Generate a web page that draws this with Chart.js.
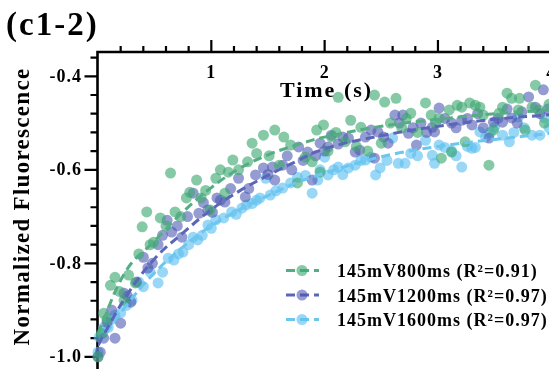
<!DOCTYPE html>
<html>
<head>
<meta charset="utf-8">
<script src="https://cdn.jsdelivr.net/npm/chart.js@4.4.1/dist/chart.umd.min.js"></script>
<style>
  html, body { margin: 0; padding: 0; background: #fff; overflow: hidden; }
  #wrap { width: 549px; height: 369px; }
</style>
</head>
<body>
<div id="wrap"><canvas id="fluoChart" width="549" height="369"></canvas></div>
<script>
// measured points [time (s), normalized fluorescence]
const pts800 = [
  [0.00,-1.000],[0.03,-0.950],[0.05,-0.907],[0.08,-0.920],[0.11,-0.847],[0.15,-0.830],[0.19,-0.860],[0.23,-0.879],
  [0.27,-0.825],[0.33,-0.842],[0.36,-0.780],[0.39,-0.722],[0.43,-0.690],[0.46,-0.760],[0.49,-0.755],[0.55,-0.703],
  [0.60,-0.720],[0.64,-0.607],[0.68,-0.690],[0.73,-0.700],[0.78,-0.660],[0.81,-0.648],[0.87,-0.622],[0.91,-0.660],
  [0.95,-0.644],[0.99,-0.686],[1.04,-0.618],[1.08,-0.600],[1.12,-0.650],[1.15,-0.605],[1.19,-0.579],[1.24,-0.600],
  [1.32,-0.583],[1.36,-0.543],[1.40,-0.565],[1.46,-0.526],[1.51,-0.570],[1.56,-0.515],[1.60,-0.590],[1.64,-0.530],
  [1.70,-0.547],[1.76,-0.628],[1.83,-0.573],[1.89,-0.583],[1.93,-0.515],[1.96,-0.605],[1.99,-0.504],[2.03,-0.560],
  [2.06,-0.530],[2.10,-0.520],[2.12,-0.445],[2.18,-0.540],[2.23,-0.494],[2.28,-0.550],[2.32,-0.509],[2.38,-0.560],
  [2.44,-0.440],[2.50,-0.543],[2.53,-0.455],[2.58,-0.500],[2.63,-0.447],[2.68,-0.510],[2.72,-0.490],[2.76,-0.479],
  [2.82,-0.520],[2.89,-0.457],[2.94,-0.483],[2.98,-0.500],[3.01,-0.490],[3.03,-0.575],[3.10,-0.472],[3.12,-0.562],
  [3.17,-0.462],[3.21,-0.466],[3.24,-0.540],[3.28,-0.457],[3.33,-0.462],[3.37,-0.466],[3.40,-0.483],[3.45,-0.590],
  [3.49,-0.515],[3.54,-0.479],[3.57,-0.466],[3.61,-0.436],[3.65,-0.447],[3.71,-0.472],[3.72,-0.447],[3.77,-0.515],
  [3.83,-0.466],[3.86,-0.419],[3.89,-0.472],[3.94,-0.500],[3.98,-0.460]
];
const pts1200 = [
  [0.00,-1.000],[0.02,-0.990],[0.05,-0.960],[0.08,-0.926],[0.12,-0.900],[0.15,-0.960],[0.20,-0.928],[0.23,-0.864],
  [0.26,-0.870],[0.29,-0.883],[0.34,-0.840],[0.40,-0.787],[0.44,-0.810],[0.48,-0.800],[0.53,-0.760],[0.57,-0.740],
  [0.61,-0.708],[0.65,-0.733],[0.70,-0.720],[0.74,-0.744],[0.79,-0.700],[0.84,-0.650],[0.89,-0.693],[0.93,-0.670],
  [0.97,-0.686],[1.01,-0.691],[1.05,-0.660],[1.08,-0.665],[1.12,-0.669],[1.17,-0.640],[1.24,-0.618],[1.30,-0.658],
  [1.33,-0.640],[1.39,-0.611],[1.46,-0.596],[1.50,-0.610],[1.54,-0.594],[1.56,-0.622],[1.63,-0.590],[1.67,-0.570],
  [1.71,-0.600],[1.77,-0.551],[1.81,-0.580],[1.85,-0.562],[1.89,-0.622],[1.92,-0.570],[1.96,-0.543],[2.00,-0.560],
  [2.03,-0.551],[2.06,-0.526],[2.12,-0.545],[2.16,-0.530],[2.21,-0.532],[2.27,-0.562],[2.31,-0.558],[2.36,-0.530],
  [2.41,-0.515],[2.44,-0.575],[2.47,-0.519],[2.52,-0.530],[2.56,-0.543],[2.62,-0.483],[2.66,-0.500],[2.69,-0.483],
  [2.74,-0.522],[2.78,-0.510],[2.81,-0.547],[2.85,-0.500],[2.90,-0.520],[2.95,-0.509],[2.97,-0.519],[3.01,-0.468],
  [3.06,-0.490],[3.12,-0.500],[3.16,-0.510],[3.21,-0.494],[3.26,-0.490],[3.30,-0.504],[3.35,-0.480],[3.40,-0.510],
  [3.45,-0.532],[3.49,-0.498],[3.53,-0.490],[3.57,-0.498],[3.61,-0.470],[3.65,-0.489],[3.70,-0.500],[3.74,-0.476],
  [3.80,-0.444],[3.86,-0.466],[3.90,-0.480],[3.93,-0.429],[3.97,-0.470]
];
const pts1600 = [
  [0.00,-0.990],[0.01,-0.958],[0.04,-0.950],[0.05,-0.937],[0.09,-0.937],[0.12,-0.920],[0.15,-0.911],[0.20,-0.906],
  [0.25,-0.890],[0.30,-0.879],[0.36,-0.840],[0.40,-0.850],[0.46,-0.819],[0.53,-0.842],[0.57,-0.819],[0.62,-0.789],
  [0.67,-0.793],[0.71,-0.780],[0.75,-0.776],[0.80,-0.760],[0.84,-0.744],[0.88,-0.750],[0.92,-0.740],[0.97,-0.718],
  [1.00,-0.725],[1.04,-0.707],[1.11,-0.703],[1.18,-0.690],[1.22,-0.695],[1.27,-0.682],[1.31,-0.675],[1.36,-0.672],
  [1.40,-0.665],[1.43,-0.660],[1.48,-0.618],[1.52,-0.654],[1.57,-0.645],[1.63,-0.639],[1.70,-0.628],[1.76,-0.616],
  [1.83,-0.612],[1.89,-0.650],[1.94,-0.622],[1.96,-0.600],[2.00,-0.573],[2.03,-0.611],[2.08,-0.600],[2.12,-0.594],
  [2.16,-0.610],[2.21,-0.596],[2.27,-0.590],[2.32,-0.580],[2.36,-0.579],[2.41,-0.573],[2.45,-0.611],[2.49,-0.596],
  [2.55,-0.580],[2.60,-0.532],[2.65,-0.586],[2.71,-0.586],[2.76,-0.565],[2.82,-0.570],[2.89,-0.537],[2.95,-0.569],
  [2.97,-0.586],[3.01,-0.547],[3.06,-0.552],[3.12,-0.560],[3.16,-0.570],[3.21,-0.594],[3.26,-0.550],[3.30,-0.554],
  [3.33,-0.552],[3.37,-0.519],[3.42,-0.530],[3.46,-0.520],[3.50,-0.509],[3.57,-0.526],[3.63,-0.540],[3.67,-0.520],
  [3.71,-0.487],[3.76,-0.510],[3.83,-0.526],[3.90,-0.526],[3.94,-0.489],[3.98,-0.510]
];

// fitted curves
const fitT    = [0, 0.25, 0.5, 0.75, 1.0, 1.25, 1.5, 1.75, 2.0, 2.5, 3.0, 3.5, 4.0];
const fit800  = [-0.950, -0.815, -0.752, -0.690, -0.638, -0.597, -0.568, -0.547, -0.530, -0.507, -0.492, -0.480, -0.472];
const fit1200 = [-0.975, -0.870, -0.790, -0.735, -0.685, -0.645, -0.612, -0.582, -0.555, -0.527, -0.507, -0.492, -0.482];
const fit1600 = [-0.975, -0.890, -0.820, -0.765, -0.720, -0.685, -0.655, -0.628, -0.607, -0.572, -0.550, -0.535, -0.522];

const seriesNames = ['145mV800ms (R\u00b2=0.91)', '145mV1200ms (R\u00b2=0.97)', '145mV1600ms (R\u00b2=0.97)'];
const xTickLabels = [1, 2, 3, 4];
const yTickLabels = [-1.0, -0.8, -0.6, -0.4];
const xMin = 0, xMax = 3.98;
const yMin = -1.026, yMax = -0.348;

const pointColors = ['rgba(59,168,112,0.62)', 'rgba(73,85,177,0.58)', 'rgba(94,192,241,0.64)'];
const lineColors = ['#55ad84', '#5c66b8', '#6cc6ee'];

const SERIF = '"Liberation Serif", "Times New Roman", serif';

function toXY(pairs) {
  return pairs.map(p => ({ x: p[0], y: p[1] }));
}
function fitXY(vals) {
  return fitT.map((t, i) => ({ x: t, y: vals[i] }));
}

// axes frame, tick labels, axis titles and legend
const frame = {
  id: 'frame',
  beforeDatasetsDraw(chart) {
    const ctx = chart.ctx;
    const xs = chart.scales.x, ys = chart.scales.y, area = chart.chartArea;
    const ax = area.left - 0.5, ay = area.top;
    ctx.save();
    ctx.strokeStyle = '#000';
    ctx.lineWidth = 2.6;
    ctx.beginPath();
    ctx.moveTo(ax, area.bottom + 2);
    ctx.lineTo(ax, ay);
    ctx.lineTo(area.right + 2, ay);
    ctx.stroke();

    ctx.lineWidth = 2.2;
    ctx.beginPath();
    // y ticks every 0.04, major ones longer
    for (let i = 0; i <= 16; i++) {
      const py = ys.getPixelForValue(-1.0 + i * 0.04);
      ctx.moveTo(ax, py);
      ctx.lineTo(ax - (i % 5 === 0 ? 13 : 7), py);
    }
    // x ticks every 0.2 on top
    for (let i = 1; i <= 20; i++) {
      const px = xs.getPixelForValue(i * 0.2);
      ctx.moveTo(px, ay);
      ctx.lineTo(px, ay - (i % 5 === 0 ? 12 : 6));
    }
    ctx.stroke();

    ctx.fillStyle = '#000';
    ctx.letterSpacing = '1px';
    ctx.font = 'bold 18px ' + SERIF;

    // y tick labels
    ctx.textAlign = 'right';
    ctx.textBaseline = 'middle';
    yTickLabels.forEach(v => {
      ctx.fillText(v.toFixed(1), 82, ys.getPixelForValue(v) + 1);
    });

    // x tick labels (inside, under the top axis)
    ctx.textAlign = 'center';
    ctx.textBaseline = 'alphabetic';
    xTickLabels.forEach(t => {
      ctx.fillText(String(t), xs.getPixelForValue(t), 78);
    });

    ctx.letterSpacing = '2px';
    ctx.font = 'bold 22px ' + SERIF;
    ctx.fillText('Time (s)', (area.left + area.right) / 2 + 3, 97);

    // y axis title
    ctx.save();
    ctx.translate(23, (area.top + area.bottom) / 2 - 4);
    ctx.rotate(-Math.PI / 2);
    ctx.letterSpacing = '1.3px';
    ctx.font = 'bold 23px ' + SERIF;
    ctx.textBaseline = 'middle';
    ctx.fillText('Normalized Fluorescence', 0, 0);
    ctx.restore();
    ctx.restore();
  },
  afterDraw(chart) {
    const ctx = chart.ctx;
    ctx.save();
    ctx.fillStyle = '#000';
    ctx.textBaseline = 'alphabetic';
    ctx.textAlign = 'left';
    ctx.letterSpacing = '2px';
    ctx.font = 'bold 33px ' + SERIF;
    ctx.fillText('(c1-2)', 6, 35);

    // legend
    const rows = [270.5, 295, 319.5];
    ctx.font = 'bold 18px ' + SERIF;
    ctx.letterSpacing = '1px';
    seriesNames.forEach((name, i) => {
      const cy = rows[i];
      ctx.strokeStyle = lineColors[i];
      ctx.lineWidth = 3;
      ctx.setLineDash([9, 5]);
      ctx.beginPath();
      ctx.moveTo(286, cy);
      ctx.lineTo(319, cy);
      ctx.stroke();
      ctx.setLineDash([]);
      ctx.fillStyle = pointColors[i];
      ctx.beginPath();
      ctx.arc(302, cy, 5.5, 0, Math.PI * 2);
      ctx.fill();
      ctx.fillStyle = '#000';
      ctx.fillText(name, 337, cy + 6.5);
    });
    ctx.restore();
  }
};

const ctx = document.getElementById('fluoChart').getContext('2d');
new Chart(ctx, {
  data: {
    datasets: [
      { type: 'line', label: 'fit800', data: fitXY(fit800), borderColor: lineColors[0], borderWidth: 3, borderDash: [9, 5], pointRadius: 0, tension: 0.4, fill: false, order: 0 },
      { type: 'line', label: 'fit1200', data: fitXY(fit1200), borderColor: lineColors[1], borderWidth: 3, borderDash: [9, 5], pointRadius: 0, tension: 0.4, fill: false, order: 0 },
      { type: 'line', label: 'fit1600', data: fitXY(fit1600), borderColor: lineColors[2], borderWidth: 3, borderDash: [9, 5], pointRadius: 0, tension: 0.4, fill: false, order: 0 },
      { type: 'scatter', label: seriesNames[2], data: toXY(pts1600), backgroundColor: pointColors[2], borderWidth: 0, pointRadius: 5.5, clip: false, order: 3 },
      { type: 'scatter', label: seriesNames[1], data: toXY(pts1200), backgroundColor: pointColors[1], borderWidth: 0, pointRadius: 5.5, clip: false, order: 2 },
      { type: 'scatter', label: seriesNames[0], data: toXY(pts800), backgroundColor: pointColors[0], borderWidth: 0, pointRadius: 5.5, clip: false, order: 1 }
    ]
  },
  options: {
    responsive: false,
    animation: false,
    layout: { autoPadding: false, padding: { top: 52, left: 98, right: 0, bottom: 0 } },
    plugins: {
      legend: { display: false },
      tooltip: { enabled: false }
    },
    scales: {
      x: { type: 'linear', display: false, min: xMin, max: xMax },
      y: { type: 'linear', display: false, min: yMin, max: yMax }
    }
  },
  plugins: [frame]
});
</script>
</body>
</html>
